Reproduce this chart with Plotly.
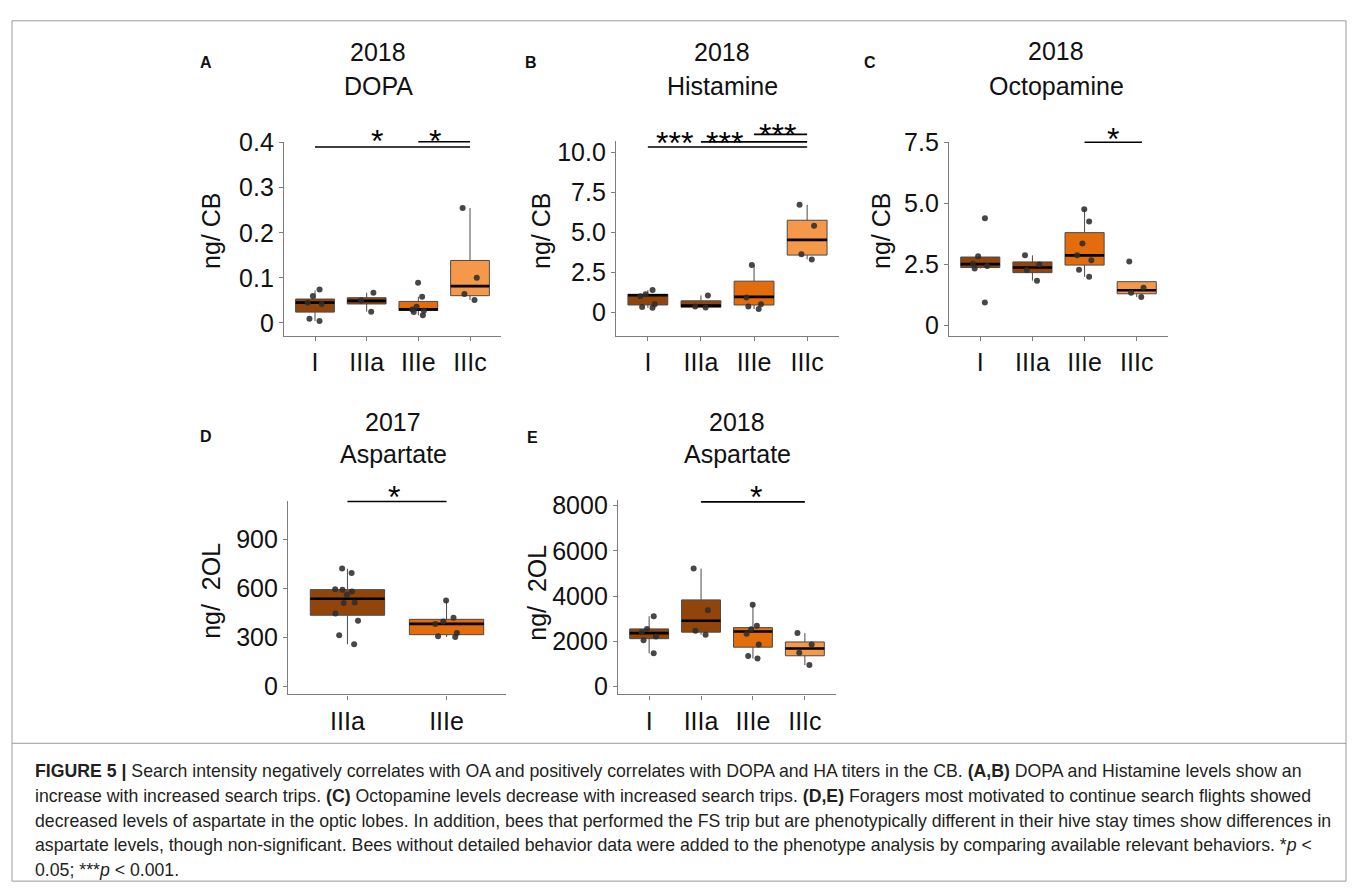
import plotly.graph_objects as go

W, H = 1358, 893

# ---------------- data ----------------
CATS4 = ["I", "IIIa", "IIIe", "IIIc"]
CATS2 = ["IIIa", "IIIe"]

# 2018 DOPA (ng/CB)
DOPA_PTS = [[0.074, 0.060, 0.045, 0.042, 0.009, 0.004],
            [0.067, 0.050, 0.025],
            [0.089, 0.058, 0.036, 0.030, 0.027, 0.024, 0.017],
            [0.255, 0.100, 0.064, 0.051]]
DOPA_Q1 = [0.024, 0.042, 0.0275, 0.0604]
DOPA_MED = [0.045, 0.049, 0.030, 0.0817]
DOPA_Q3 = [0.053, 0.056, 0.0477, 0.1386]
DOPA_LO = [0.004, 0.025, 0.017, 0.051]
DOPA_HI = [0.072, 0.067, 0.058, 0.255]
DOPA_TICKS = [0, 0.1, 0.2, 0.3, 0.4]
DOPA_TICKTEXT = ["0", "0.1", "0.2", "0.3", "0.4"]

# 2018 Histamine (ng/CB)
HIS_PTS = [[1.38, 1.12, 1.00, 0.50, 0.32, 0.27],
           [1.05, 0.35, 0.30],
           [2.95, 0.92, 0.50, 0.35, 0.20],
           [6.72, 5.40, 3.63, 3.30]]
HIS_Q1 = [0.45, 0.31, 0.45, 3.57]
HIS_MED = [1.06, 0.41, 0.96, 4.52]
HIS_Q3 = [1.12, 0.71, 1.94, 5.75]
HIS_LO = [0.27, 0.28, 0.20, 3.30]
HIS_HI = [1.38, 1.05, 2.95, 6.72]
HIS_TICKS = [0, 2.5, 5, 7.5, 10]
HIS_TICKTEXT = ["0", "2.5", "5.0", "7.5", "10.0"]

# 2018 Octopamine (ng/CB)
OCT_PTS = [[4.40, 2.84, 2.54, 2.44, 2.34, 0.95],
           [2.88, 2.50, 2.28, 1.84],
           [4.77, 4.27, 3.36, 2.88, 2.68, 2.29, 2.00],
           [2.63, 1.55, 1.35, 1.17]]
OCT_Q1 = [2.38, 2.17, 2.48, 1.305]
OCT_MED = [2.52, 2.38, 2.88, 1.45]
OCT_Q3 = [2.81, 2.61, 3.81, 1.80]
OCT_LO = [2.34, 1.84, 2.00, 1.17]
OCT_HI = [2.84, 2.88, 4.77, 1.55]
OCT_TICKS = [0, 2.5, 5, 7.5]
OCT_TICKTEXT = ["0", "2.5", "5.0", "7.5"]

# 2017 Aspartate (ng/2OL)
ASP17_PTS = [[724, 696, 596, 594, 582, 562, 515, 512, 448, 404, 314, 260],
             [528, 422, 398, 384, 328, 308, 304]]
ASP17_Q1 = [437, 318]
ASP17_MED = [538, 384]
ASP17_Q3 = [594, 412]
ASP17_LO = [260, 304]
ASP17_HI = [722, 528]
ASP17_TICKS = [0, 300, 600, 900]
ASP17_TICKTEXT = ["0", "300", "600", "900"]

# 2018 Aspartate (ng/2OL)
ASP18_PTS = [[3110, 2551, 2408, 2220, 2047, 1470],
             [5218, 3373, 2465, 2292],
             [3619, 2694, 2538, 2335, 1859, 1354, 1241],
             [2365, 1859, 1500, 951]]
ASP18_Q1 = [2119, 2408, 1743, 1363]
ASP18_MED = [2364, 2910, 2435, 1686]
ASP18_Q3 = [2551, 3835, 2608, 1975]
ASP18_LO = [1470, 2292, 1241, 951]
ASP18_HI = [3110, 5218, 3619, 2365]
ASP18_TICKS = [0, 2000, 4000, 6000, 8000]
ASP18_TICKTEXT = ["0", "2000", "4000", "6000", "8000"]

CAPTION_LINES = [
    "<b>FIGURE 5 |</b> Search intensity negatively correlates with OA and positively correlates with DOPA and HA titers in the CB. <b>(A,B)</b> DOPA and Histamine levels show an",
    "increase with increased search trips. <b>(C)</b> Octopamine levels decrease with increased search trips. <b>(D,E)</b> Foragers most motivated to continue search flights showed",
    "decreased levels of aspartate in the optic lobes. In addition, bees that performed the FS trip but are phenotypically different in their hive stay times show differences in",
    "aspartate levels, though non-significant. Bees without detailed behavior data were added to the phenotype analysis by comparing available relevant behaviors. *<i>p</i> <",
    "0.05; ***<i>p</i> < 0.001.",
]

# ---------------- styling ----------------
FILL = {"I": "#92450B", "IIIa": "#92450B", "IIIe": "#E36C0B", "IIIc": "#F5984A"}
BOX_LINE = "#4a4a4a"
AXIS_COL = "#7d7d7d"
TXT = "#111111"
FONT = "Liberation Sans, Arial, sans-serif"

# panel layout in page pixels: x0, x1 (plot area), ytop, ybot
PANELS = [
    dict(letter="A", year="2018", name="DOPA", ylab="ng/ CB", cats=CATS4,
         pts=DOPA_PTS, q1=DOPA_Q1, med=DOPA_MED, q3=DOPA_Q3, lo=DOPA_LO, hi=DOPA_HI,
         ticks=DOPA_TICKS, ticktext=DOPA_TICKTEXT, yrange=[-0.0282, 0.402],
         box=(284, 501, 130.7, 329), letter_xy=(206, 50), title_x=378, title_y=(39, 74),
         ylab_xy=(211, 222),
         bars=[(1, 4, 0.3905), (3, 4, 0.402)],
         stars=[(2.2, 0.414, "*"), (3.32, 0.414, "*")]),
    dict(letter="B", year="2018", name="Histamine", ylab="ng/ CB", cats=CATS4,
         pts=HIS_PTS, q1=HIS_Q1, med=HIS_MED, q3=HIS_Q3, lo=HIS_LO, hi=HIS_HI,
         ticks=HIS_TICKS, ticktext=HIS_TICKTEXT, yrange=[-1.467, 10.70],
         box=(616, 839, 130, 329), letter_xy=(531, 50), title_x=722, title_y=(39, 74),
         ylab_xy=(541, 222),
         bars=[(1, 4, 10.33), (2, 4, 10.65), (3, 4, 11.12)],
         stars=[(1.51, 10.9, "***"), (2.45, 10.9, "***"), (3.45, 11.41, "***")]),
    dict(letter="C", year="2018", name="Octopamine", ylab="ng/ CB", cats=CATS4,
         pts=OCT_PTS, q1=OCT_Q1, med=OCT_MED, q3=OCT_Q3, lo=OCT_LO, hi=OCT_HI,
         ticks=OCT_TICKS, ticktext=OCT_TICKTEXT, yrange=[-0.41, 7.52],
         box=(949, 1168, 131, 329), letter_xy=(870, 50), title_x=1056, title_y=(38, 74),
         ylab_xy=(881, 222),
         bars=[(3, 4.1, 7.51)],
         stars=[(3.54, 7.87, "*")]),
    dict(letter="D", year="2017", name="Aspartate", ylab="ng/ \u00a02OL", cats=CATS2,
         pts=ASP17_PTS, q1=ASP17_Q1, med=ASP17_MED, q3=ASP17_Q3, lo=ASP17_LO, hi=ASP17_HI,
         ticks=ASP17_TICKS, ticktext=ASP17_TICKTEXT, yrange=[-48, 1138],
         box=(288, 506, 498, 696), letter_xy=(206, 432), title_x=393, title_y=(417, 450),
         ylab_xy=(211, 590),
         bars=[(1, 2, 1134)],
         stars=[(1.47, 1194, "*")]),
    dict(letter="E", year="2018", name="Aspartate", ylab="ng/ \u00a02OL", cats=CATS4,
         pts=ASP18_PTS, q1=ASP18_Q1, med=ASP18_MED, q3=ASP18_Q3, lo=ASP18_LO, hi=ASP18_HI,
         ticks=ASP18_TICKS, ticktext=ASP18_TICKTEXT, yrange=[-346, 8259],
         box=(618, 836, 497, 696), letter_xy=(532, 433), title_x=737, title_y=(417, 450),
         ylab_xy=(537, 592),
         bars=[(2, 4, 8172)],
         stars=[(3.06, 8605, "*")]),
]


def px(x):
    return x / W


def py(y):
    return 1 - y / H


fig = go.Figure()
annotations = []
shapes = []
layout_axes = {}

for n, p in enumerate(PANELS, start=1):
    sfx = "" if n == 1 else str(n)
    xa, ya = "x" + sfx, "y" + sfx
    x0, x1, yt, yb = p["box"]
    k = len(p["cats"])
    xr = [0.4, k + 0.6]
    yr = p["yrange"]
    xdom = [px(x0), px(x1)]
    ydom = [py(yb), py(yt)]

    def to_paper(xv, yv, xdom=xdom, ydom=ydom, xr=xr, yr=yr):
        fx = xdom[0] + (xv - xr[0]) / (xr[1] - xr[0]) * (xdom[1] - xdom[0])
        fy = ydom[0] + (yv - yr[0]) / (yr[1] - yr[0]) * (ydom[1] - ydom[0])
        return fx, fy

    for i, cat in enumerate(p["cats"]):
        xpos = i + 1
        # box + whiskers
        fig.add_trace(go.Box(
            x=[xpos], q1=[p["q1"][i]], median=[p["med"][i]], q3=[p["q3"][i]],
            lowerfence=[p["lo"][i]], upperfence=[p["hi"][i]],
            width=0.75, whiskerwidth=0, fillcolor=FILL[cat],
            line=dict(color=BOX_LINE, width=1), boxpoints=False,
            xaxis=xa, yaxis=ya, showlegend=False, hoverinfo="skip"))
        # thick median bar
        m = p["med"][i]
        fig.add_trace(go.Box(
            x=[xpos], q1=[m], median=[m], q3=[m], lowerfence=[m], upperfence=[m],
            width=0.75, whiskerwidth=0, fillcolor="rgba(0,0,0,0)",
            line=dict(color="black", width=2.6), boxpoints=False,
            xaxis=xa, yaxis=ya, showlegend=False, hoverinfo="skip"))
        # jittered observations
        vals = p["pts"][i]
        fig.add_trace(go.Box(
            x=[xpos] * len(vals), y=vals, width=0.75, boxpoints="all",
            jitter=0.45, pointpos=0, whiskerwidth=0,
            fillcolor="rgba(0,0,0,0)", line=dict(color="rgba(0,0,0,0)", width=0),
            marker=dict(color="rgba(45,45,45,0.88)", size=6),
            xaxis=xa, yaxis=ya, showlegend=False, hoverinfo="skip"))

    axis_common = dict(showline=True, linecolor=AXIS_COL, linewidth=1.3,
                       ticks="outside", ticklen=4, tickwidth=1.3, tickcolor=AXIS_COL,
                       tickfont=dict(size=25, color=TXT, family=FONT),
                       showgrid=False, zeroline=False, fixedrange=True)
    layout_axes["xaxis" + sfx] = dict(axis_common, domain=xdom, range=xr, anchor=ya,
                                      tickvals=list(range(1, k + 1)), ticktext=p["cats"])
    layout_axes["yaxis" + sfx] = dict(axis_common, domain=ydom, range=yr, anchor=xa,
                                      tickvals=p["ticks"], ticktext=p["ticktext"])

    # significance bars and stars
    for (a, b, lvl) in p["bars"]:
        ax, ay = to_paper(a, lvl)
        bx, _ = to_paper(b, lvl)
        shapes.append(dict(type="line", xref="paper", yref="paper", x0=ax, x1=bx,
                           y0=ay, y1=ay, line=dict(color="black", width=1.6)))
    for (sx, sy, txt) in p["stars"]:
        fx, fy = to_paper(sx, sy)
        annotations.append(dict(x=fx, y=fy, xref="paper", yref="paper", text=txt,
                                showarrow=False, xanchor="center", yanchor="middle",
                                yshift=-5, font=dict(size=32, color="black", family=FONT)))

    # titles, panel letter and y-axis title
    annotations.append(dict(x=px(p["title_x"]), y=py(p["title_y"][0]), xref="paper", yref="paper",
                            text=p["year"], showarrow=False, xanchor="center", yanchor="middle",
                            font=dict(size=25, color=TXT, family=FONT)))
    annotations.append(dict(x=px(p["title_x"]), y=py(p["title_y"][1]), xref="paper", yref="paper",
                            text=p["name"], showarrow=False, xanchor="center", yanchor="middle",
                            font=dict(size=25, color=TXT, family=FONT)))
    annotations.append(dict(x=px(p["letter_xy"][0]), y=py(p["letter_xy"][1]), xref="paper",
                            yref="paper", text="<b>%s</b>" % p["letter"], showarrow=False,
                            xanchor="center", yanchor="middle",
                            font=dict(size=16, color=TXT, family=FONT)))
    annotations.append(dict(x=px(p["ylab_xy"][0]), y=py(p["ylab_xy"][1]), xref="paper",
                            yref="paper", text=p["ylab"], textangle=-90, showarrow=False,
                            xanchor="center", yanchor="middle",
                            font=dict(size=25, color=TXT, family=FONT)))

# caption
CAP_Y = [774, 800, 825, 850, 876]
for line, yy in zip(CAPTION_LINES, CAP_Y):
    annotations.append(dict(x=px(33), y=py(yy), xref="paper", yref="paper", text=line,
                            showarrow=False, xanchor="left", yanchor="middle", align="left",
                            font=dict(size=17.7, color="#231f20", family=FONT)))

# figure frame and caption separator
shapes.append(dict(type="rect", xref="paper", yref="paper", x0=px(12), x1=px(1346),
                   y0=py(887), y1=py(7), line=dict(color="#9a9a9a", width=1)))
shapes.append(dict(type="line", xref="paper", yref="paper", x0=px(12), x1=px(1346),
                   y0=py(746), y1=py(746), line=dict(color="#9a9a9a", width=1)))

fig.update_layout(width=W, height=H, margin=dict(l=0, r=0, t=0, b=0),
                  paper_bgcolor="white", plot_bgcolor="white", boxmode="overlay",
                  showlegend=False, annotations=annotations, shapes=shapes,
                  font=dict(family=FONT, color=TXT), **layout_axes)

fig.write_html("out.html", config={"displayModeBar": False})
